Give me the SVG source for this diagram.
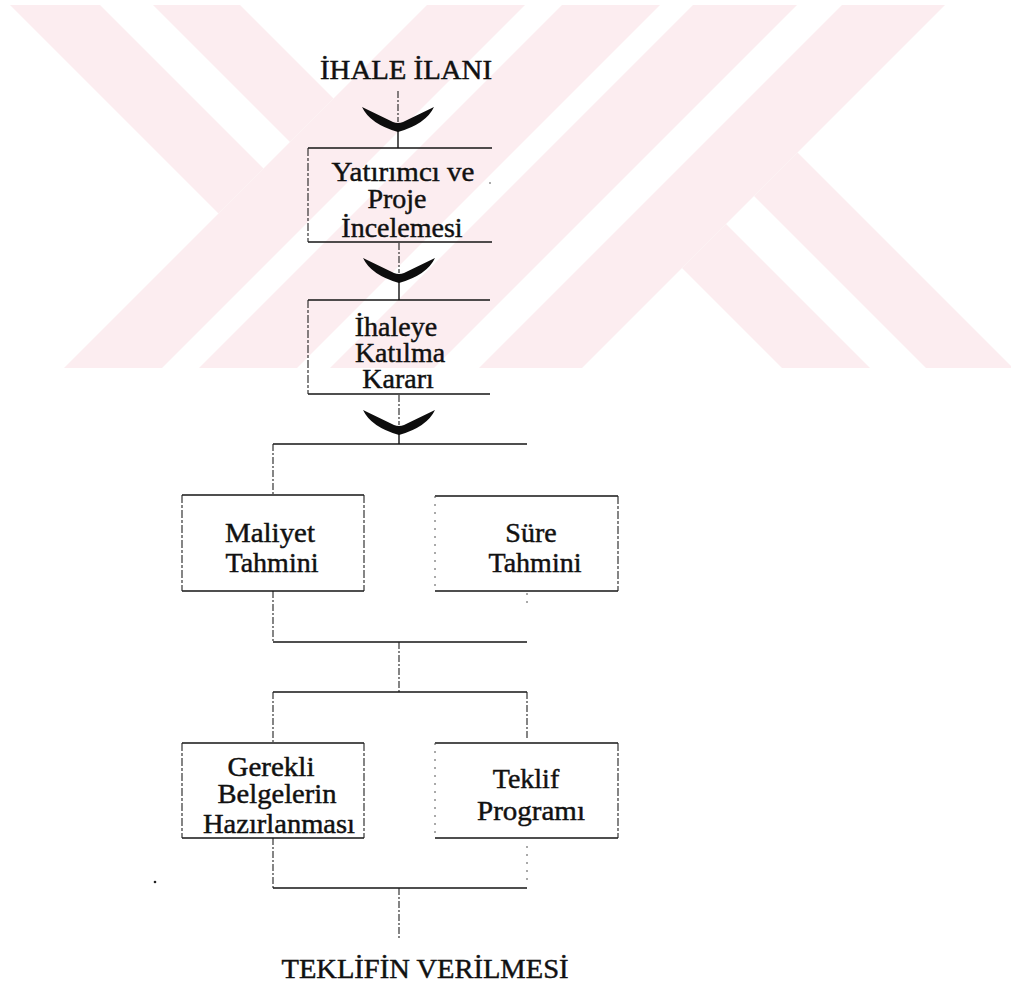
<svg xmlns="http://www.w3.org/2000/svg" width="1011" height="991" viewBox="0 0 1011 991">
  <style>
    .wm { fill: #FCEDF0; stroke: none; }
    .lbl { font-family: "Liberation Serif", "Times New Roman", serif; font-size: 28px; fill: #111; stroke: #111; stroke-width: 0.45; text-anchor: middle; }
    .edge-h { stroke: #151515; stroke-width: 1.7; fill: none; }
    .edge-v { stroke: #222; stroke-width: 1.1; fill: none; stroke-dasharray: 8 2 3 2; }
    .edge-faint { stroke: #555; stroke-width: 1; fill: none; stroke-dasharray: 2 6; }
    .wire { stroke: #222; stroke-width: 1.1; fill: none; stroke-dasharray: 7 2 2 2; }
    .wire-h { stroke: #151515; stroke-width: 1.7; fill: none; }
    .stem { stroke: #111; stroke-width: 1.4; fill: none; }
    .head { fill: #0d0d0d; }
  </style>
  <defs>
    <!-- swept V arrowhead, origin at its lower point -->
    <path id="vhead" d="M-36,-25 L-5,-10 Q0,-8 5,-10 L36,-25 Q28,-8 0,0 Q-28,-8 -36,-25 Z"/>
  </defs>

  <rect width="1011" height="991" fill="#ffffff"/>

  <!-- background emblem: diagonal pink bands -->
  <g id="emblem">
    <polygon class="wm" points="10,5 100,5 263.5,168.5 218.5,213.5"/>
    <polygon class="wm" points="153,5 240,5 333.5,98.5 290,142"/>
    <polygon class="wm" points="427,5 525,5 162,368 64,368"/>
    <polygon class="wm" points="562,5 660,5 297,368 199,368"/>
    <polygon class="wm" points="693,5 797,5 434,368 330,368"/>
    <polygon class="wm" points="842,5 945,5 582,368 479,368"/>
    <polygon class="wm" points="797.5,152.5 754,196 926,368 1011,368 1011,366"/>
    <polygon class="wm" points="726,224 682,268 782,368 870,368"/>
  </g>

  <!-- connectors -->
  <g id="connectors">
    <line class="wire" x1="398" y1="91" x2="398" y2="122"/>
    <line class="stem" x1="398" y1="131" x2="398" y2="148"/>
    <line class="wire" x1="399" y1="243" x2="399" y2="273"/>
    <line class="stem" x1="399" y1="282" x2="399" y2="300"/>
    <line class="wire" x1="399" y1="395" x2="399" y2="425"/>
    <line class="stem" x1="399" y1="434" x2="399" y2="444"/>
    <use href="#vhead" class="head" transform="translate(398,132)"/>
    <use href="#vhead" class="head" transform="translate(399,283)"/>
    <use href="#vhead" class="head" transform="translate(399,435)"/>

    <!-- split to the two estimates -->
    <line class="wire-h" x1="273" y1="444" x2="527" y2="444"/>
    <line class="wire" x1="273" y1="444" x2="273" y2="495"/>
    <!-- join of the two estimates -->
    <line class="wire" x1="273" y1="591" x2="273" y2="642"/>
    <line class="edge-faint" x1="527" y1="593" x2="527" y2="604"/>
    <line class="wire-h" x1="273" y1="642" x2="527" y2="642"/>
    <line class="wire" x1="399" y1="642" x2="399" y2="692"/>
    <!-- split to documents and programme -->
    <line class="wire-h" x1="273" y1="692" x2="527" y2="692"/>
    <line class="wire" x1="273" y1="692" x2="273" y2="743"/>
    <line class="wire" x1="527" y1="692" x2="527" y2="738"/>
    <!-- final join -->
    <line class="wire" x1="273" y1="838" x2="273" y2="888"/>
    <line class="edge-faint" x1="527" y1="846" x2="527" y2="882"/>
    <line class="wire-h" x1="273" y1="888" x2="527" y2="888"/>
    <line class="wire" x1="399" y1="888" x2="399" y2="938"/>
  </g>

  <g id="n-start">
    <text class="lbl" x="406" y="79" textLength="172" lengthAdjust="spacingAndGlyphs">İHALE İLANI</text>
  </g>

  <g id="n-review">
    <line class="edge-h" x1="308" y1="148" x2="492" y2="148"/>
    <line class="edge-h" x1="308" y1="242" x2="492" y2="242"/>
    <line class="edge-v" x1="308" y1="148" x2="308" y2="242"/>
    <circle cx="490" cy="183" r="0.8" fill="#444"/>
    <text class="lbl" x="403" y="181" textLength="143" lengthAdjust="spacingAndGlyphs">Yatırımcı ve</text>
    <text class="lbl" x="397" y="208">Proje</text>
    <text class="lbl" x="402" y="237">İncelemesi</text>
  </g>

  <g id="n-decision">
    <line class="edge-h" x1="308" y1="300" x2="490" y2="300"/>
    <line class="edge-h" x1="308" y1="394" x2="490" y2="394"/>
    <line class="edge-v" x1="308" y1="300" x2="308" y2="394"/>
    <text class="lbl" x="396" y="336">İhaleye</text>
    <text class="lbl" x="400" y="362">Katılma</text>
    <text class="lbl" x="398" y="388">Kararı</text>
  </g>

  <g id="n-cost">
    <line class="edge-h" x1="182" y1="495" x2="364" y2="495"/>
    <line class="edge-h" x1="182" y1="591" x2="364" y2="591"/>
    <line class="edge-v" x1="182" y1="495" x2="182" y2="591"/>
    <line class="edge-v" x1="364" y1="495" x2="364" y2="591"/>
    <text class="lbl" x="270" y="542" textLength="90" lengthAdjust="spacingAndGlyphs">Maliyet</text>
    <text class="lbl" x="272" y="572">Tahmini</text>
  </g>

  <g id="n-time">
    <line class="edge-h" x1="435" y1="496" x2="618" y2="496"/>
    <line class="edge-h" x1="435" y1="591" x2="618" y2="591"/>
    <line class="edge-faint" x1="435" y1="496" x2="435" y2="591"/>
    <line class="edge-v" x1="618" y1="496" x2="618" y2="591"/>
    <text class="lbl" x="531" y="542">Süre</text>
    <text class="lbl" x="535" y="572">Tahmini</text>
  </g>

  <g id="n-docs">
    <line class="edge-h" x1="182" y1="743" x2="364" y2="743"/>
    <line class="edge-h" x1="182" y1="838" x2="364" y2="838"/>
    <line class="edge-v" x1="182" y1="743" x2="182" y2="838"/>
    <line class="edge-v" x1="364" y1="743" x2="364" y2="838"/>
    <text class="lbl" x="271" y="776" textLength="87" lengthAdjust="spacingAndGlyphs">Gerekli</text>
    <text class="lbl" x="277" y="803" textLength="119" lengthAdjust="spacingAndGlyphs">Belgelerin</text>
    <text class="lbl" x="279" y="833" textLength="152" lengthAdjust="spacingAndGlyphs">Hazırlanması</text>
  </g>

  <g id="n-program">
    <line class="edge-h" x1="435" y1="743" x2="618" y2="743"/>
    <line class="edge-h" x1="435" y1="838" x2="618" y2="838"/>
    <line class="edge-faint" x1="435" y1="743" x2="435" y2="838"/>
    <line class="edge-v" x1="618" y1="743" x2="618" y2="838"/>
    <text class="lbl" x="526" y="788">Teklif</text>
    <text class="lbl" x="531" y="820" textLength="108" lengthAdjust="spacingAndGlyphs">Programı</text>
  </g>

  <g id="n-end">
    <text class="lbl" x="425" y="978" textLength="287" lengthAdjust="spacingAndGlyphs">TEKLİFİN VERİLMESİ</text>
  </g>

  <circle cx="155" cy="882" r="1.3" fill="#222"/>
</svg>
